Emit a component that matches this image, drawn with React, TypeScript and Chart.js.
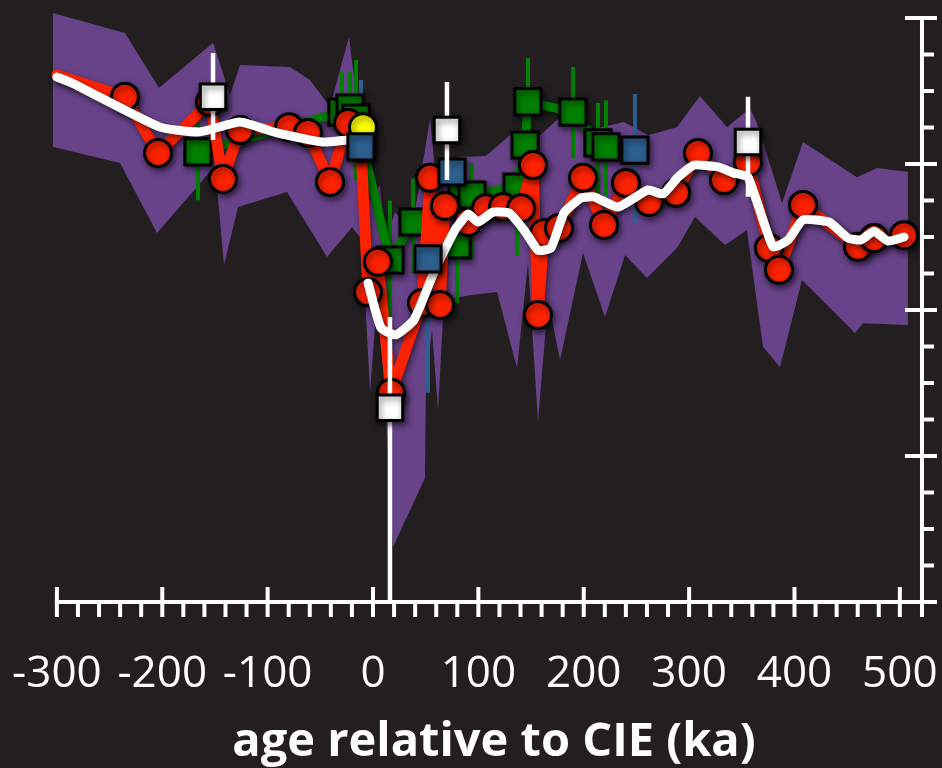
import { useEffect, useRef } from 'react';
import { Chart, registerables } from 'chart.js';

Chart.register(...registerables);

const BG = '#231f20';
const PURPLE = '#68438a';
const RED = '#ff2200';
const GREEN = '#008000';
const BLUE = '#2d5f8f';
const YELLOW = '#ffff00';
const WHITE = '#ffffff';

// x axis ticks (ka)
const xTickValues = [-300, -200, -100, 0, 100, 200, 300, 400, 500];
const xTickLabels = ['-300', '-200', '-100', '0', '100', '200', '300', '400', '500'];
const xMinorStep = 20;
// right y axis ticks (no labels)
const yMajorTicks = [0, 4, 8, 12, 16];
const yMinorStep = 1;

// purple envelope
const bandUpperX = [-304, -235.4, -203.1, -151.8, -135.7, -126.2, -78.8, -59.8, -40.8, -22.8, -15.2, -10.4, 0, 6.6, 12.3, 20.9, 37.0, 49.3, 54.1, 59.8, 68.3, 82.6, 107.2, 135.7, 153.7, 185.1, 205.9, 238.2, 261.0, 288.5, 310.3, 336.0, 357.8, 364.4, 388.2, 408.1, 459.3, 478.3, 507.7];
const bandUpperY = [16.14, 15.59, 14.08, 15.32, 13.89, 14.71, 14.66, 14.30, 13.56, 15.48, 13.75, 10.60, 11.15, 11.42, 9.92, 10.68, 10.19, 12.38, 13.26, 11.56, 12.11, 12.19, 12.22, 12.93, 12.66, 13.48, 12.93, 13.15, 12.79, 13.01, 13.86, 13.01, 13.53, 13.12, 10.93, 12.60, 11.64, 11.89, 11.78];
const bandLowerX = [-304, -240.1, -205.0, -167.0, -149.9, -141.4, -128.1, -81.6, -43.7, -19.9, -10.4, -2.8, 3.8, 10.4, 19.0, 49.3, 50.3, 56.0, 61.7, 67.4, 93.0, 117.7, 136.7, 147.1, 156.6, 166.1, 177.5, 199.3, 220.2, 239.2, 260.0, 288.5, 305.6, 334.1, 354.9, 370.1, 386.3, 407.1, 457.4, 465.0, 507.7];
const bandLowerY = [12.47, 12.03, 10.11, 11.37, 11.97, 9.23, 10.82, 11.23, 9.45, 10.27, 9.92, 5.73, 8.27, 6.08, 1.51, 3.40, 6.08, 7.45, 5.26, 8.27, 8.41, 8.49, 6.41, 9.29, 4.93, 8.27, 6.63, 9.56, 7.81, 9.51, 8.88, 9.70, 10.55, 9.78, 10.19, 6.99, 6.44, 8.82, 7.37, 7.64, 7.59];

// red record (first point has no marker)
const redX = [-300, -235.4, -204.0, -154.7, -142.4, -126.2, -79.7, -61.7, -40.8, -23.7, -11.4, -4.7, 4.7, 17.1, 46.5, 54.1, 63.6, 68.3, 90.2, 107.2, 123.4, 140.5, 151.8, 156.6, 162.3, 176.5, 199.3, 219.2, 240.1, 261.9, 287.6, 308.4, 333.1, 355.9, 375.8, 385.3, 408.1, 460.3, 475.5, 503.9];
const redY = [14.44, 13.84, 12.30, 13.70, 11.59, 12.93, 13.01, 12.85, 11.51, 13.12, 12.44, 8.49, 9.32, 5.73, 8.19, 11.62, 8.14, 10.85, 10.41, 10.79, 10.82, 10.79, 11.97, 7.86, 10.11, 10.25, 11.62, 10.33, 11.48, 10.96, 11.21, 12.30, 11.56, 12.05, 9.70, 9.10, 10.88, 9.73, 9.97, 10.05];

// green record with error bars
const greenX = [-166.1, -29.4, -21.8, -16.1, 16.1, 38.0, 79.7, 84.5, 94.0, 136.7, 144.3, 147.1, 189.8, 213.5, 221.1];
const greenY = [12.33, 13.42, 13.53, 13.26, 9.37, 10.41, 9.78, 11.10, 11.15, 11.37, 12.52, 13.70, 13.42, 12.58, 12.47];
const greenLo = [11.01, 12.25, 12.8, 11.56, 5.9, 9.0, 8.2, 10.0, 9.37, 9.5, 11.5, 12.0, 12.16, 11.2, 11.15];
const greenHi = [13.26, 14.52, 14.52, 14.85, 11.0, 11.6, 10.9, 12.2, 12.03, 11.6, 12.6, 14.9, 14.66, 13.67, 13.75];

// blue record with error bars
const blueX = [-11.4, 52.2, 75.0, 248.6];
const blueY = [12.47, 9.40, 11.78, 12.38];
const blueLo: (number | null)[] = [10.74, 5.73, null, 10.38];
const blueHi: (number | null)[] = [14.30, 10.05, null, 13.92];

// yellow point
const yellowX = [-9.5];
const yellowY = [13.01];

// white squares with error bars
const whiteSqX = [-151.8, 16.1, 70.2, 355.9];
const whiteSqY = [13.84, 5.32, 12.93, 12.60];
const whiteSqLo = [12.66, 0, 11.56, 11.10];
const whiteSqHi = [15.04, 7.81, 14.25, 13.84];

// white smoothed curve (null = gap)
const curveX = [-300, -285.7, -202.1, -164.2, -126.2, -91.1, -47.5, -24.7, -15, -4.7, 7.6, 21.8, 38.9, 58.8, 77.8, 90.2, 99.6, 113.9, 129.1, 143.3, 156.6, 168.9, 181.3, 197.4, 209.7, 232.5, 261.0, 275.2, 289.5, 304.6, 327.4, 342.6, 355.9, 379.6, 393.9, 408.1, 432.8, 450.8, 463.1, 475.5, 488.8, 504.0];
const curveY: (number | null)[] = [14.38, 14.22, 13.01, 12.88, 13.15, 12.85, 12.60, 12.66, null, 8.74, 7.51, 7.32, 7.73, 9.10, 10.19, 10.63, 10.41, 10.68, 10.66, 10.19, 9.64, 9.70, 10.66, 11.07, 11.10, 10.82, 11.29, 11.18, 11.64, 11.97, 11.92, 11.75, 11.64, 9.73, 9.92, 10.47, 10.41, 9.97, 9.92, 10.16, 9.89, 10.00];

const X_MIN = -304;
const X_MAX = 521;
const Y_MIN = 0;
const Y_MAX = 16.4;

function pts(xs: number[], ys: (number | null)[]) {
  return xs.map((x, i) => ({ x, y: ys[i] }));
}

function bars(xs: number[], lo: (number | null)[], hi: (number | null)[]) {
  const out: { x: number; y: number | null }[] = [];
  xs.forEach((x, i) => {
    if (lo[i] == null || hi[i] == null) return;
    out.push({ x, y: lo[i] as number }, { x, y: hi[i] as number }, { x, y: null });
  });
  return out;
}

const SHADOWED = new Set([4, 5, 6, 7, 8, 10]);

const shadowPlugin = {
  id: 'shadows',
  beforeDatasetDraw(chart: any, args: any) {
    if (!SHADOWED.has(args.index)) return;
    const ctx = chart.ctx;
    ctx.save();
    ctx.shadowColor = 'rgba(0,0,0,0.55)';
    ctx.shadowBlur = 6;
    ctx.shadowOffsetX = 2;
    ctx.shadowOffsetY = 3;
  },
  afterDatasetDraw(chart: any, args: any) {
    if (!SHADOWED.has(args.index)) return;
    chart.ctx.restore();
  },
};

const bgPlugin = {
  id: 'bg',
  beforeDraw(chart: any) {
    const ctx = chart.ctx;
    ctx.save();
    ctx.fillStyle = BG;
    ctx.fillRect(0, 0, chart.width, chart.height);
    ctx.restore();
  },
};

const axesPlugin = {
  id: 'customAxes',
  afterDraw(chart: any) {
    const ctx = chart.ctx;
    const xs = chart.scales.x;
    const ys = chart.scales.y;
    const y0 = ys.getPixelForValue(0);
    const xr = xs.getPixelForValue(X_MAX);
    ctx.save();
    ctx.strokeStyle = WHITE;
    ctx.lineWidth = 4;
    ctx.lineCap = 'butt';
    // x axis line
    ctx.beginPath();
    ctx.moveTo(xs.getPixelForValue(-300) - 2, y0);
    ctx.lineTo(xr + 15, y0);
    ctx.stroke();
    // x ticks
    for (let v = -300; v <= 500; v += xMinorStep) {
      const px = xs.getPixelForValue(v);
      const major = xTickValues.includes(v);
      ctx.beginPath();
      ctx.moveTo(px, major ? y0 - 15 : y0);
      ctx.lineTo(px, y0 + 15);
      ctx.stroke();
    }
    // y axis line (right)
    ctx.beginPath();
    ctx.moveTo(xr, ys.getPixelForValue(16) - 2);
    ctx.lineTo(xr, y0 + 15);
    ctx.stroke();
    for (let v = 0; v <= 16; v += yMinorStep) {
      const py = ys.getPixelForValue(v);
      const major = yMajorTicks.includes(v);
      ctx.beginPath();
      ctx.moveTo(major ? xr - 17 : xr, py);
      ctx.lineTo(xr + (major ? 15 : 12), py);
      ctx.stroke();
    }
    // labels
    ctx.fillStyle = WHITE;
    ctx.textAlign = 'center';
    ctx.textBaseline = 'alphabetic';
    ctx.font = '44px "Open Sans"';
    xTickValues.forEach((v, i) => {
      ctx.fillText(xTickLabels[i], xs.getPixelForValue(v), 687);
    });
    ctx.font = 'bold 47px "Open Sans"';
    ctx.fillText('age relative to CIE (ka)', 494, 756);
    ctx.restore();
  },
};

export default function App() {
  const ref = useRef<HTMLCanvasElement>(null);
  useEffect(() => {
    document.body.style.margin = '0';
    document.body.style.background = BG;
    const xl = 373 + 1.0537 * X_MIN;
    const xrPx = 373 + 1.0537 * X_MAX;
    const yTop = 602 - 36.5 * Y_MAX;
    const chart = new Chart(ref.current as HTMLCanvasElement, {
      type: 'line',
      data: {
        datasets: [
          {
            data: pts(bandUpperX, bandUpperY),
            fill: '+1',
            backgroundColor: PURPLE,
            borderWidth: 0,
            pointRadius: 0,
            order: 10,
            clip: false,
          } as any,
          {
            data: pts(bandLowerX, bandLowerY),
            fill: false,
            borderWidth: 0,
            pointRadius: 0,
            order: 9,
            clip: false,
          },
          {
            data: bars(greenX, greenLo, greenHi),
            borderColor: GREEN,
            borderWidth: 4,
            pointRadius: 0,
            spanGaps: false,
            order: 8,
          },
          {
            data: bars(blueX, blueLo, blueHi),
            borderColor: BLUE,
            borderWidth: 4,
            pointRadius: 0,
            spanGaps: false,
            order: 7,
          },
          {
            data: pts(greenX, greenY),
            borderColor: GREEN,
            borderWidth: 9,
            borderJoinStyle: 'round',
            pointStyle: 'rect',
            pointRadius: 18.5,
            pointBackgroundColor: GREEN,
            pointBorderColor: '#000',
            pointBorderWidth: 3,
            order: 6,
          },
          {
            data: pts(redX, redY),
            borderColor: RED,
            borderWidth: 11,
            borderJoinStyle: 'round',
            borderCapStyle: 'round',
            pointRadius: (c: any) => (c.dataIndex === 0 ? 0 : 13.5),
            pointBackgroundColor: RED,
            pointBorderColor: '#000',
            pointBorderWidth: 3,
            order: 5,
            clip: false,
          },
          {
            data: pts(curveX, curveY),
            borderColor: WHITE,
            borderWidth: 9,
            borderJoinStyle: 'round',
            borderCapStyle: 'round',
            tension: 0.15,
            spanGaps: false,
            pointRadius: 0,
            order: 4,
            clip: false,
          },
          {
            data: pts(yellowX, yellowY),
            showLine: false,
            pointRadius: 13.5,
            pointBackgroundColor: YELLOW,
            pointBorderColor: '#000',
            pointBorderWidth: 3,
            order: 3,
          },
          {
            data: pts(blueX, blueY),
            showLine: false,
            pointStyle: 'rect',
            pointRadius: 18.5,
            pointBackgroundColor: BLUE,
            pointBorderColor: '#000',
            pointBorderWidth: 3,
            order: 2,
          },
          {
            data: bars(whiteSqX, whiteSqLo, whiteSqHi),
            borderColor: WHITE,
            borderWidth: 4.5,
            pointRadius: 0,
            spanGaps: false,
            order: 1,
            clip: false,
          },
          {
            data: pts(whiteSqX, whiteSqY),
            showLine: false,
            pointStyle: 'rect',
            pointRadius: 18,
            pointBackgroundColor: WHITE,
            pointBorderColor: '#000',
            pointBorderWidth: 3,
            order: 0,
          },
        ],
      },
      options: {
        responsive: false,
        animation: false,
        events: [],
        devicePixelRatio: 1,
        layout: {
          autoPadding: false,
          padding: { left: xl, right: 942 - xrPx, top: yTop, bottom: 768 - 602 },
        },
        scales: {
          x: { type: 'linear', min: X_MIN, max: X_MAX, display: false },
          y: { type: 'linear', min: Y_MIN, max: Y_MAX, display: false },
        },
        plugins: {
          legend: { display: false },
          tooltip: { enabled: false },
        },
      },
      plugins: [bgPlugin, shadowPlugin, axesPlugin],
    } as any);
    return () => chart.destroy();
  }, []);
  return (
    <div style={{ position: 'fixed', left: 0, top: 0, width: 942, height: 768, background: BG }}>
      <canvas ref={ref} width={942} height={768} style={{ display: 'block', width: 942, height: 768 }} />
    </div>
  );
}
